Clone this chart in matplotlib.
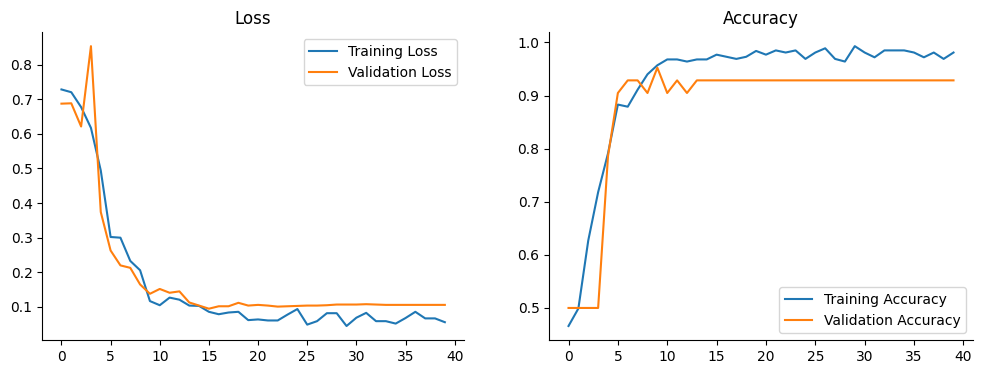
import numpy as np
import matplotlib
matplotlib.use('Agg')
import matplotlib.pyplot as plt

# training history
train_loss = [0.728, 0.720, 0.677, 0.617, 0.494, 0.302, 0.300, 0.233, 0.206, 0.117,
              0.105, 0.127, 0.121, 0.104, 0.103, 0.086, 0.079, 0.084, 0.086, 0.062,
              0.064, 0.061, 0.061, 0.078, 0.094, 0.049, 0.059, 0.082, 0.082, 0.045,
              0.069, 0.083, 0.059, 0.059, 0.052, 0.068, 0.086, 0.067, 0.067, 0.056]
val_loss = [0.687, 0.688, 0.621, 0.853, 0.374, 0.263, 0.220, 0.213, 0.165, 0.138,
            0.152, 0.141, 0.145, 0.113, 0.104, 0.095, 0.102, 0.102, 0.112, 0.104,
            0.106, 0.104, 0.101, 0.102, 0.103, 0.104, 0.104, 0.105, 0.107, 0.107,
            0.107, 0.108, 0.107, 0.106, 0.106, 0.106, 0.106, 0.106, 0.106, 0.106]
train_acc = [0.466, 0.499, 0.627, 0.718, 0.791, 0.883, 0.879, 0.911, 0.940, 0.957,
             0.968, 0.968, 0.964, 0.968, 0.968, 0.977, 0.973, 0.969, 0.973, 0.984,
             0.977, 0.985, 0.981, 0.985, 0.969, 0.981, 0.989, 0.969, 0.964, 0.993,
             0.981, 0.972, 0.985, 0.985, 0.985, 0.981, 0.972, 0.981, 0.969, 0.981]
val_correct = [21, 21, 21, 21, 33, 38, 39, 39, 38, 40,
               38, 39, 38, 39, 39, 39, 39, 39, 39, 39,
               39, 39, 39, 39, 39, 39, 39, 39, 39, 39,
               39, 39, 39, 39, 39, 39, 39, 39, 39, 39]
val_acc = np.array(val_correct) / 42.0
epochs = np.arange(len(train_loss))

fig = plt.figure(figsize=(9.81, 3.74), dpi=100)
ax1 = fig.add_axes([0.0431, 0.0909, 0.4299, 0.8231])
ax2 = fig.add_axes([0.5599, 0.0909, 0.4317, 0.8231])

ax1.plot(epochs, train_loss, label='Training Loss')
ax1.plot(epochs, val_loss, label='Validation Loss')
ax1.set_title('Loss')
ax1.legend(loc='upper right')

ax2.plot(epochs, train_acc, label='Training Accuracy')
ax2.plot(epochs, val_acc, label='Validation Accuracy')
ax2.set_title('Accuracy')
ax2.legend(loc='lower right')

for ax in (ax1, ax2):
    ax.spines['top'].set_visible(False)
    ax.spines['right'].set_visible(False)

fig.savefig('out.png', dpi=100)
